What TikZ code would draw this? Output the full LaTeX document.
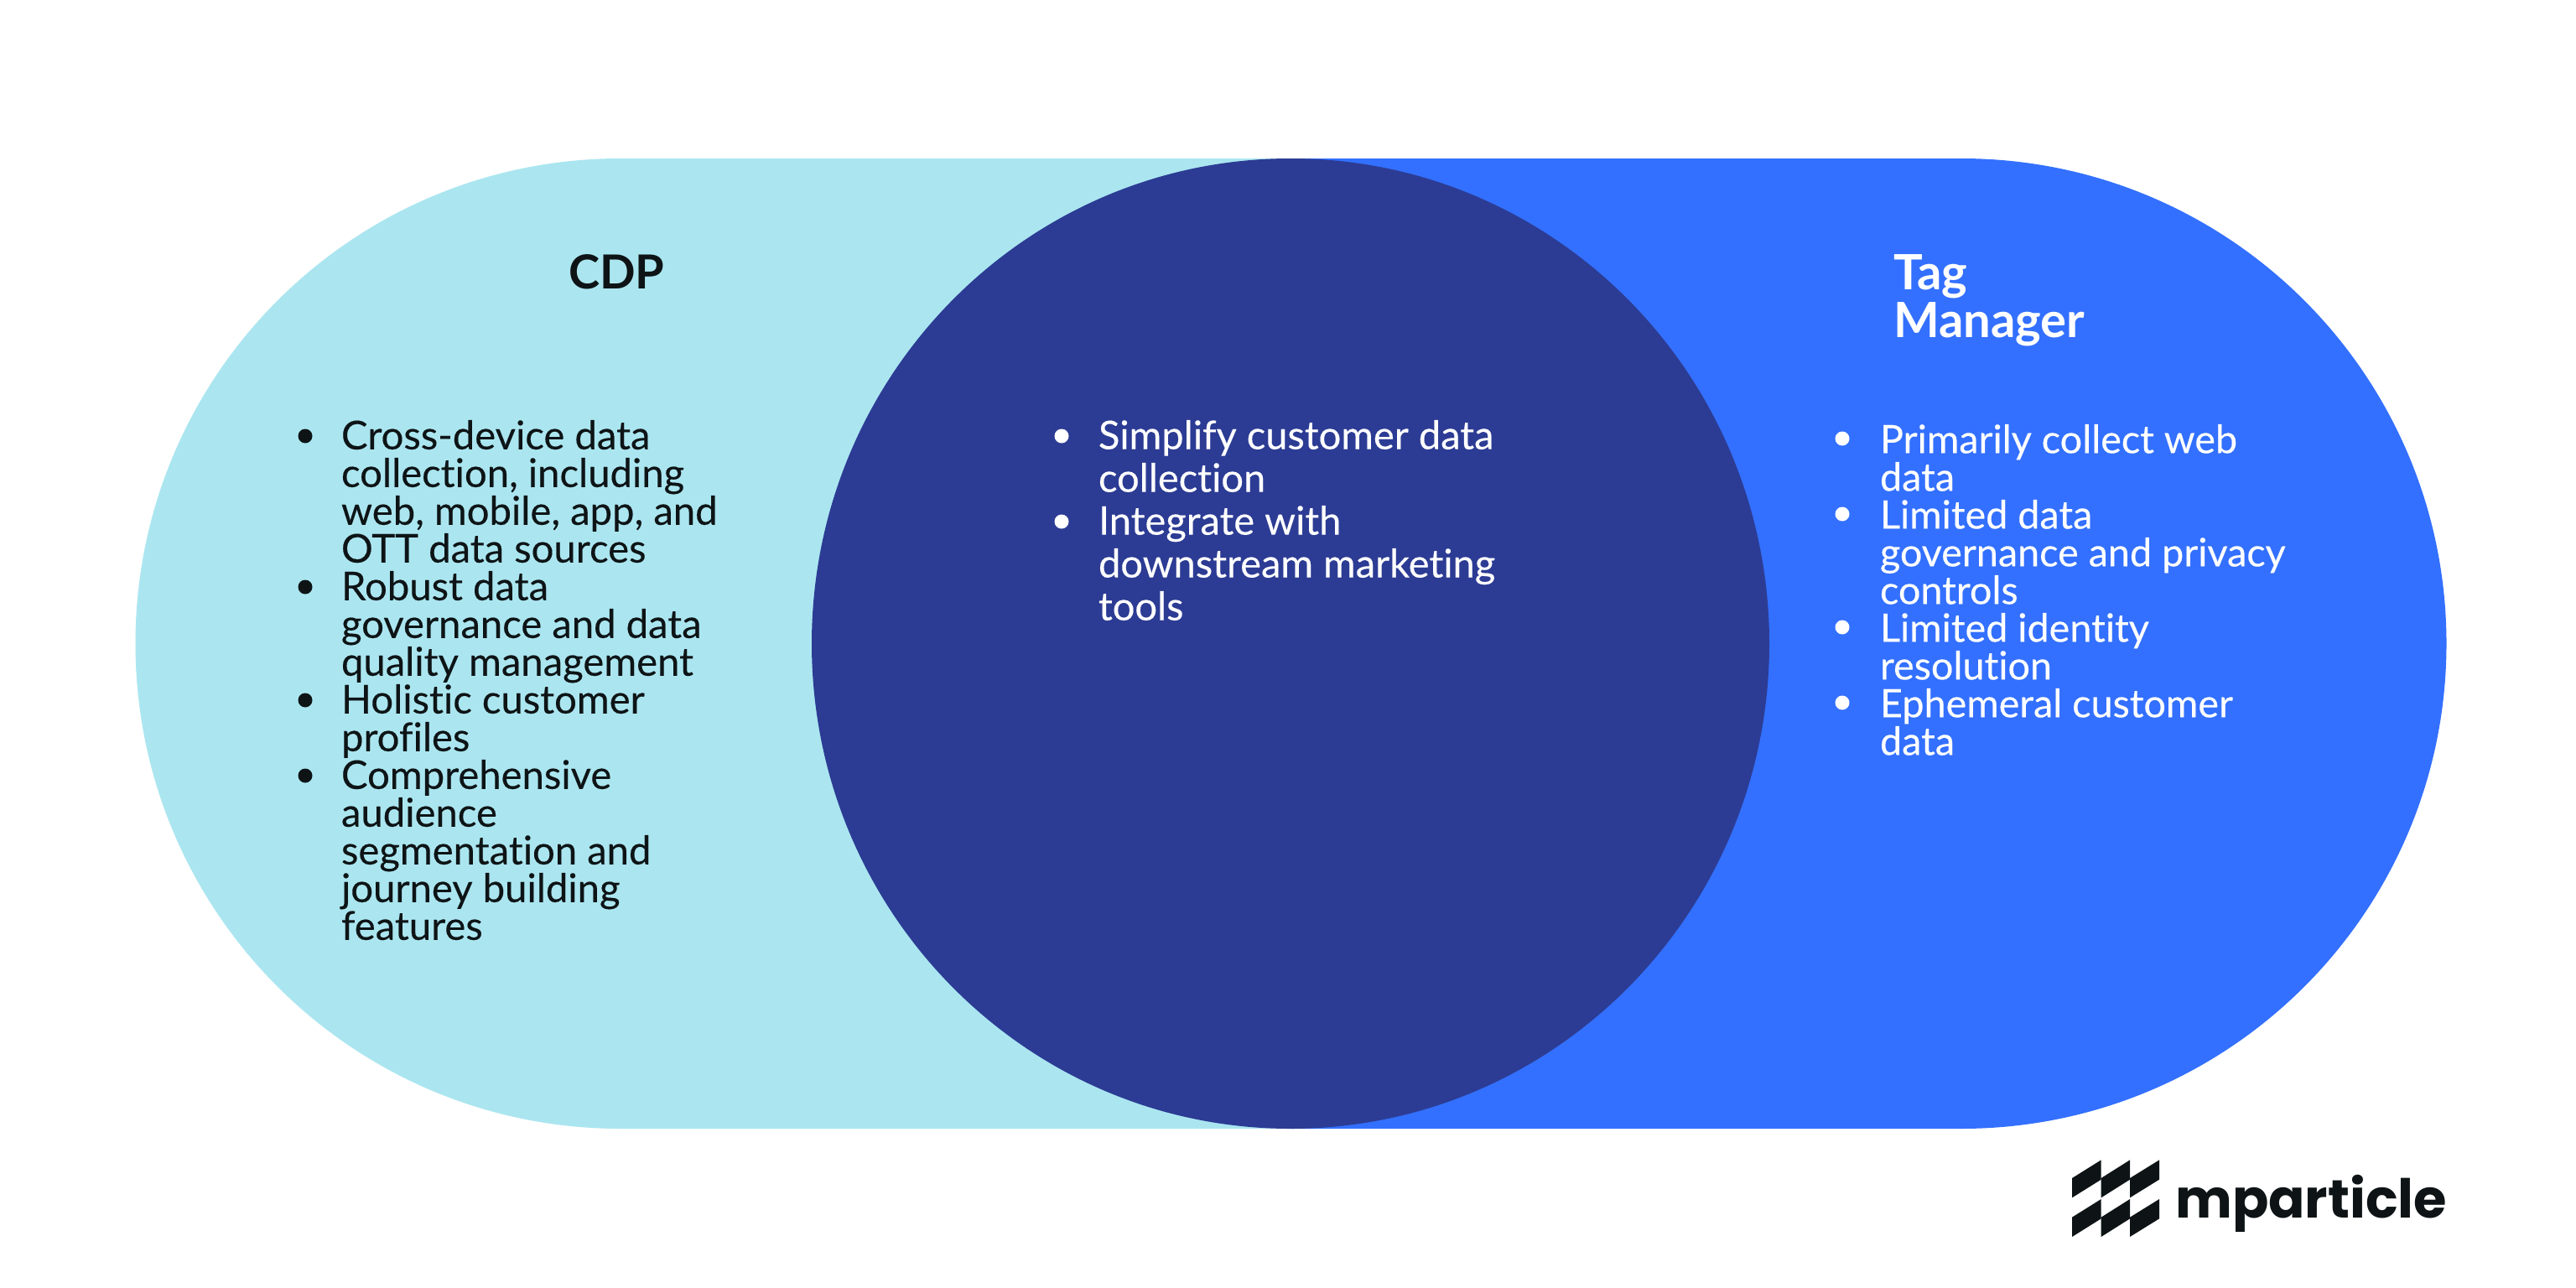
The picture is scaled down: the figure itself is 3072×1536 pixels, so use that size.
\documentclass[tikz,border=0pt]{standalone}
\usepackage{fontspec}
\setmainfont[Ligatures=NoCommon,FakeBold=0.25]{Lato}
\newfontfamily\headfont[Ligatures=NoCommon]{Lato Bold}
\newfontfamily\logofont{Poppins}
\definecolor{lightc}{HTML}{ABE6F0}
\definecolor{darkc}{HTML}{2C3C94}
\definecolor{bluec}{HTML}{3370FF}
\definecolor{inkc}{HTML}{0E1416}
\tikzset{
  listtext/.style={anchor=north west,align=left,inner sep=0pt,outer sep=0pt,font=\fontsize{47.2}{45}\selectfont},
  righttext/.style={anchor=north west,align=left,inner sep=0pt,outer sep=0pt,font=\fontsize{46.7}{45}\selectfont},
  midtext/.style={anchor=north west,align=left,inner sep=0pt,outer sep=0pt,font=\fontsize{47}{51}\selectfont},
  headtext/.style={anchor=north west,align=left,inner sep=0pt,outer sep=0pt,font=\headfont\fontsize{56}{57}\selectfont},
  tagtext/.style={anchor=north west,align=left,inner sep=0pt,outer sep=0pt,font=\headfont\fontsize{58}{57}\selectfont},
  logomark/.style={fill=inkc,draw=none}
}
\begin{document}
\begin{tikzpicture}[x=1pt,y=-1pt]
\useasboundingbox (0,0) rectangle (3072,1536);
\fill[white] (0,0) rectangle (3072,1536);
% pill halves
\fill[lightc] (1540,189) -- (740,189) arc[start angle=270,end angle=90,radius=578.5] -- (1540,1346) -- cycle;
\fill[bluec] (1540,189) -- (2339,189) arc[start angle=-90,end angle=90,radius=578.5] -- (1540,1346) -- cycle;
\fill[darkc] (1539,767.5) ellipse[x radius=571,y radius=578.5];
% headings
\node[headtext,text=inkc] (cdp) at (678,304) {CDP};
\node[tagtext,text=white] (tag) at (2258,304) {Tag\\Manager};
% left list
\node[listtext,text=inkc] (left) at (407,501) {Cross-device data\\collection, including\\web, mobile, app, and\\OTT data sources\\Robust data\\governance and data\\quality management\\Holistic customer\\profiles\\Comprehensive\\audience\\segmentation and\\journey building\\features};
\foreach \y in {520,700,835,925}{\fill[inkc] (364,\y) circle[radius=8.5];}
% middle list
\node[midtext,text=white] (mid) at (1310,501) {Simplify customer data\\collection\\Integrate with\\downstream marketing\\tools};
\foreach \y in {520,622}{\fill[white] (1266,\y) circle[radius=8.5];}
% right list
\node[righttext,text=white] (right) at (2242,506) {Primarily collect web\\data\\Limited data\\governance and privacy\\controls\\Limited identity\\resolution\\Ephemeral customer\\data};
\foreach \y in {523,613,748,838}{\fill[white] (2197,\y) circle[radius=8.5];}
% logo
\begin{scope}[shift={(2440,1360)},x=0.3333pt,y=-0.3333pt]
\fill[logomark] (93,135)--(197,70)--(197,140)--(93,205)--cycle;
\fill[logomark] (197,135)--(300,70)--(300,140)--(197,205)--cycle;
\fill[logomark] (300,135)--(405,70)--(405,140)--(300,205)--cycle;
\fill[logomark] (93,275)--(197,210)--(197,280)--(93,345)--cycle;
\fill[logomark] (197,275)--(300,210)--(300,280)--(197,345)--cycle;
\fill[logomark] (300,275)--(405,210)--(405,280)--(300,345)--cycle;
\end{scope}
\node[anchor=base west,inner sep=0pt,text=inkc,font=\logofont\bfseries\fontsize{64}{64}\selectfont] (logo) at (2594,1452) {mparticle};
\end{tikzpicture}
\end{document}
